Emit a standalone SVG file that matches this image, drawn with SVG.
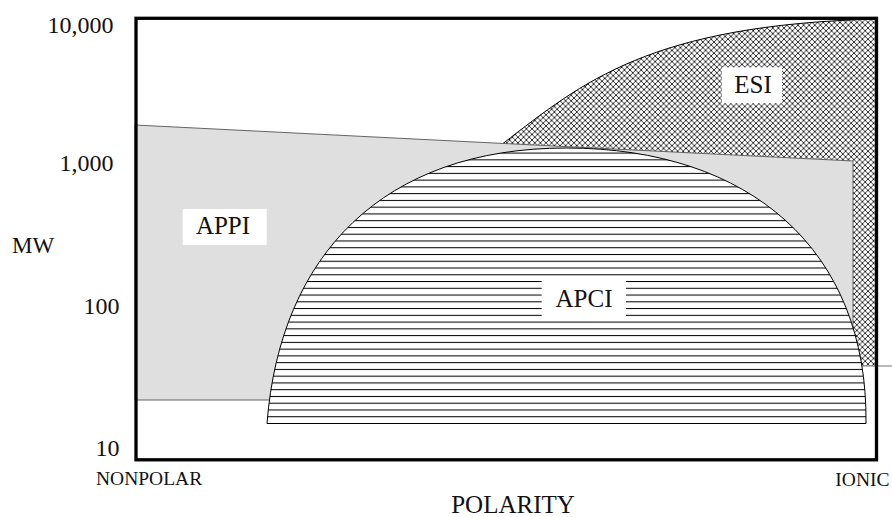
<svg xmlns="http://www.w3.org/2000/svg" width="892" height="517" viewBox="0 0 892 517">
  <style>
    .ax { font-family: "Liberation Serif", "Times New Roman", serif; font-size: 24px; fill: #111; }
    .end { font-family: "Liberation Serif", "Times New Roman", serif; font-size: 19.5px; fill: #111; }
    .lbl { font-family: "Liberation Serif", "Times New Roman", serif; font-size: 25px; fill: #111; text-anchor: middle; }
    .box { fill: #fff; stroke: none; }
  </style>
  <defs>
    <!-- fine diagonal grid for the ESI area -->
    <pattern id="xhatch" patternUnits="userSpaceOnUse" x="0" y="0" width="5.6" height="5.6">
      <rect width="5.6" height="5.6" fill="#fff"/>
      <path d="M-1,-1 L6.6,6.6 M6.6,-1 L-1,6.6" stroke="#000" stroke-width="0.8" fill="none"/>
    </pattern>
    <!-- horizontal ruling for the APCI area -->
    <pattern id="hlines" patternUnits="userSpaceOnUse" x="0" y="0" width="20" height="6.76">
      <rect width="20" height="6.76" fill="#fff"/>
      <line x1="0" y1="4.38" x2="20" y2="4.38" stroke="#000" stroke-width="1"/>
    </pattern>
  </defs>

  <!-- ESI region -->
  <g id="esi">
    <path d="M503,143.5 C583,82 650,25 877,19 L877,366 L853,366 L853,161 Z" fill="url(#xhatch)"/>
    <path d="M503,143.5 C583,82 650,25 877,19" fill="none" stroke="#000" stroke-width="1"/>
    <line x1="853" y1="366" x2="892" y2="366" stroke="#777" stroke-width="1"/>
  </g>

  <!-- APPI region -->
  <g id="appi">
    <path d="M135,125 L853,161 L853,400 L135,400 Z" fill="#dfdfdf" stroke="#555" stroke-width="0.9"/>
  </g>

  <!-- APCI region -->
  <g id="apci">
    <path d="M267,423.5 C280,255 383,148 566.5,148 C750,148 868,250 866,423.5 Z" fill="url(#hlines)" stroke="#000" stroke-width="1"/>
  </g>

  <!-- plot frame -->
  <rect id="frame" x="136" y="18.3" width="740.5" height="441.5" fill="none" stroke="#000" stroke-width="3.3"/>

  <!-- region labels -->
  <g id="label-esi">
    <rect class="box" x="722" y="67.3" width="60" height="36"/>
    <text class="lbl" x="753" y="93.3">ESI</text>
  </g>
  <g id="label-appi">
    <rect class="box" x="182.7" y="209" width="84" height="36"/>
    <text class="lbl" x="223" y="234">APPI</text>
  </g>
  <g id="label-apci">
    <rect class="box" x="541.7" y="281" width="84.3" height="38"/>
    <text class="lbl" x="584" y="307.3">APCI</text>
  </g>

  <!-- axes text -->
  <g id="axis-y">
    <text class="ax" x="113.5" y="33" text-anchor="end">10,000</text>
    <text class="ax" x="113.5" y="171" text-anchor="end">1,000</text>
    <text class="ax" x="119.5" y="314" text-anchor="end">100</text>
    <text class="ax" x="119.5" y="456" text-anchor="end">10</text>
    <text class="ax" x="12" y="253" style="font-size:23px">MW</text>
  </g>
  <g id="axis-x">
    <text class="end" x="96" y="485">NONPOLAR</text>
    <text class="end" x="889.5" y="485.7" text-anchor="end">IONIC</text>
    <text class="ax" x="513" y="513" text-anchor="middle" style="font-size:25px">POLARITY</text>
  </g>
</svg>
